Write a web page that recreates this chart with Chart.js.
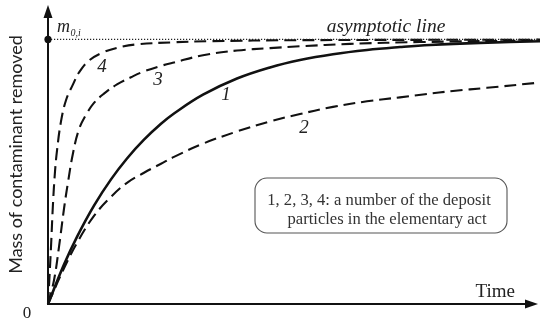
<!DOCTYPE html>
<html>
<head>
<meta charset="utf-8">
<script src="https://cdn.jsdelivr.net/npm/chart.js@4/dist/chart.umd.min.js"></script>
<style>
  html, body { margin: 0; padding: 0; background: #fff; }
  #wrap { width: 550px; height: 325px; }
</style>
</head>
<body>
<div id="wrap"><canvas id="c" width="550" height="325" style="width:550px;height:325px"></canvas></div>
<script>
// ---- data (time in arbitrary units, mass as fraction of m0,i) ----
const curve1Time = [0, 16, 29, 46, 63, 79, 96, 113, 126, 155, 189, 222, 252, 285, 319, 352, 382, 432, 492];
const curve1Mass = [0, 0.149, 0.254, 0.372, 0.471, 0.550, 0.621, 0.681, 0.720, 0.791, 0.852, 0.894, 0.922, 0.944, 0.960, 0.971, 0.979, 0.987, 0.993];

const curve2Time = [0, 16, 29, 46, 63, 79, 96, 113, 126, 155, 189, 222, 252, 285, 319, 352, 377, 405, 439, 492];
const curve2Mass = [0, 0.135, 0.231, 0.333, 0.405, 0.458, 0.496, 0.530, 0.556, 0.606, 0.652, 0.690, 0.718, 0.745, 0.766, 0.781, 0.793, 0.805, 0.817, 0.837];

const curve3Time = [0, 6, 11, 16, 20, 25, 31, 38, 46, 56, 69, 83, 96, 113, 126, 155, 189, 222, 252, 302, 372, 492];
const curve3Mass = [0, 0.090, 0.216, 0.360, 0.460, 0.570, 0.660, 0.715, 0.760, 0.795, 0.830, 0.857, 0.879, 0.900, 0.913, 0.940, 0.958, 0.967, 0.974, 0.983, 0.990, 0.996];

const curve4Time = [0, 1.3, 3, 5, 7, 9, 13, 18, 25, 31, 41, 55, 71, 88, 125, 160, 250, 492];
const curve4Mass = [0, 0.090, 0.216, 0.380, 0.500, 0.580, 0.690, 0.770, 0.830, 0.875, 0.920, 0.951, 0.970, 0.981, 0.989, 0.993, 0.997, 0.999];

const asymptoteValue = 1;          // m0,i
const timeAxisMax = 492;
const massAxisMax = 1.13;

const curveLabels = ["1", "2", "3", "4"];
const yTitle = "Mass of contaminant removed";
const xTitle = "Time";
const originLabel = "0";
const asymptoteLabel = "asymptotic line";
const noteLines = ["1, 2, 3, 4: a number of the deposit", "particles in the elementary act"];

// ---- build chart ----
function pts(xs, ys) { return xs.map((x, i) => ({ x: x, y: ys[i] })); }

const INK = '#111';
const dashed = [12, 6];

const datasets = [
  { label: curveLabels[0], data: pts(curve1Time, curve1Mass), borderColor: INK, borderWidth: 2.6, borderDash: [] },
  { label: curveLabels[1], data: pts(curve2Time, curve2Mass), borderColor: INK, borderWidth: 2.1, borderDash: dashed },
  { label: curveLabels[2], data: pts(curve3Time, curve3Mass), borderColor: INK, borderWidth: 2.1, borderDash: dashed },
  { label: curveLabels[3], data: pts(curve4Time, curve4Mass), borderColor: INK, borderWidth: 2.1, borderDash: dashed }
].map(d => Object.assign(d, { fill: false, pointRadius: 0, tension: 0.4, clip: false }));

// annotation anchor positions (in data units)
const curveLabelAt = [
  { x: 178, y: 0.788 }, // 1
  { x: 256, y: 0.667 }, // 2
  { x: 110, y: 0.848 }, // 3
  { x: 54,  y: 0.894 }  // 4
];

const decor = {
  id: 'decor',
  afterDatasetsDraw(chart) {
    const ctx = chart.ctx;
    const xs = chart.scales.x, ys = chart.scales.y;
    const x0 = xs.getPixelForValue(0), y0 = ys.getPixelForValue(0);
    const yTop = ys.getPixelForValue(massAxisMax);
    const xEnd = xs.getPixelForValue(490);
    const yAs = ys.getPixelForValue(asymptoteValue);
    ctx.save();

    // asymptote dotted line
    ctx.strokeStyle = '#222';
    ctx.lineWidth = 1.2;
    ctx.setLineDash([1.2, 1.8]);
    ctx.beginPath();
    ctx.moveTo(x0, yAs);
    ctx.lineTo(xs.getPixelForValue(timeAxisMax), yAs);
    ctx.stroke();
    ctx.setLineDash([]);

    // axes
    ctx.strokeStyle = INK;
    ctx.fillStyle = INK;
    ctx.lineWidth = 2;
    ctx.beginPath();
    ctx.moveTo(x0, y0 + 1);
    ctx.lineTo(x0, yTop + 8);
    ctx.moveTo(x0 - 1, y0);
    ctx.lineTo(xEnd - 8, y0);
    ctx.stroke();
    // arrowheads
    ctx.beginPath();
    ctx.moveTo(x0, yTop);
    ctx.lineTo(x0 - 4.5, yTop + 13);
    ctx.lineTo(x0 + 4.5, yTop + 13);
    ctx.closePath();
    ctx.fill();
    ctx.beginPath();
    ctx.moveTo(xEnd, y0);
    ctx.lineTo(xEnd - 13, y0 - 4.5);
    ctx.lineTo(xEnd - 13, y0 + 4.5);
    ctx.closePath();
    ctx.fill();

    // dot at m0,i
    ctx.beginPath();
    ctx.arc(x0, yAs, 3.6, 0, Math.PI * 2);
    ctx.fill();

    // m0,i label
    ctx.fillStyle = '#222';
    ctx.textBaseline = 'alphabetic';
    ctx.textAlign = 'left';
    ctx.font = 'italic 18px "Liberation Serif", serif';
    ctx.fillText('m', x0 + 9, yAs - 7);
    const mw = ctx.measureText('m').width;
    ctx.font = 'italic 10px "Liberation Serif", serif';
    ctx.fillText('0,', x0 + 9 + mw + 0.5, yAs - 3);
    const zw = ctx.measureText('0,').width;
    ctx.fillText('i', x0 + 9 + mw + zw + 0.5, yAs - 3);

    // asymptotic line label
    ctx.font = 'italic 19.5px "Liberation Serif", serif';
    ctx.textAlign = 'center';
    ctx.fillText(asymptoteLabel, xs.getPixelForValue(338), yAs - 7);

    // curve number labels
    ctx.font = 'italic 19px "Liberation Serif", serif';
    ctx.textBaseline = 'middle';
    curveLabels.forEach((t, i) => {
      const a = curveLabelAt[i];
      ctx.fillText(t, xs.getPixelForValue(a.x), ys.getPixelForValue(a.y));
    });

    // origin
    ctx.font = '17px "Liberation Serif", serif';
    ctx.textAlign = 'center';
    ctx.fillText(originLabel, x0 - 21, y0 + 10);

    // Time label
    ctx.font = '19px "Liberation Serif", serif';
    ctx.textBaseline = 'alphabetic';
    ctx.textAlign = 'right';
    ctx.fillText(xTitle, xEnd - 23, y0 - 7);

    // y title
    ctx.save();
    ctx.translate(x0 - 26, (y0 + yTop) / 2);
    ctx.rotate(-Math.PI / 2);
    ctx.font = '18px Lato, sans-serif';
    ctx.textAlign = 'center';
    ctx.textBaseline = 'alphabetic';
    ctx.fillText(yTitle, 0, 0);
    ctx.restore();

    // note box
    const bx = 255, by = 178, bw = 252, bh = 55, r = 12;
    ctx.strokeStyle = '#555';
    ctx.lineWidth = 1.1;
    ctx.beginPath();
    ctx.roundRect(bx, by, bw, bh, r);
    ctx.stroke();
    ctx.fillStyle = '#333';
    ctx.font = '16.6px "Liberation Serif", serif';
    ctx.textAlign = 'center';
    ctx.fillText(noteLines[0], 379, 205);
    ctx.fillText(noteLines[1], 387, 224);

    ctx.restore();
  }
};

new Chart(document.getElementById('c'), {
  type: 'line',
  data: { datasets },
  options: {
    responsive: false,
    animation: false,
    events: [],
    layout: { padding: { left: 48, right: 10, top: 5, bottom: 21 } },
    scales: {
      x: { type: 'linear', min: 0, max: timeAxisMax, display: false },
      y: { type: 'linear', min: 0, max: massAxisMax, display: false }
    },
    plugins: { legend: { display: false }, tooltip: { enabled: false }, title: { display: false } }
  },
  plugins: [decor]
});
</script>
</body>
</html>
